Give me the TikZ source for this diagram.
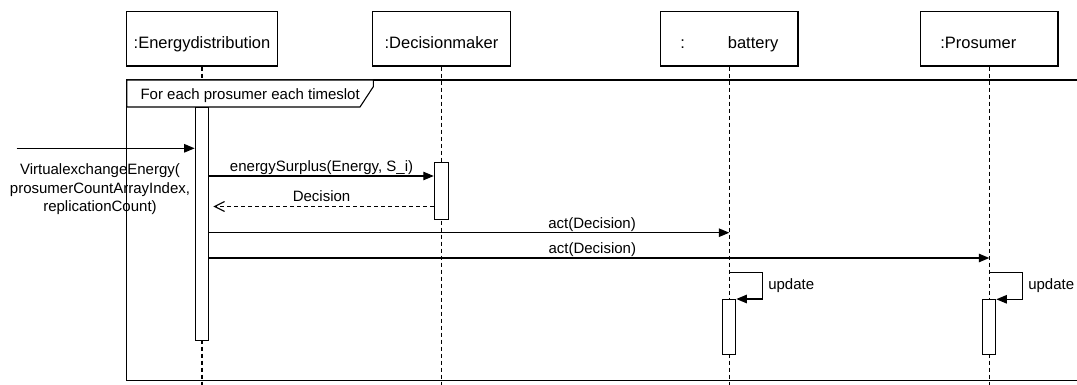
\documentclass[tikz,border=0pt]{standalone}
\usepackage{fontspec}
\setmainfont{Liberation Sans}
\usetikzlibrary{arrows.meta}

\begin{document}
\begin{tikzpicture}[x=1pt,y=-1pt,
	every node/.style={font=\fontsize{15}{18.5}\selectfont},
	head/.style={draw, line width=1.1pt, minimum height=54.3pt, minimum width=137.3pt, inner sep=0pt, text height=18.8pt, text depth=0pt, font=\fontsize{16.5}{20}\selectfont},
	bar/.style={draw, fill=white, line width=1.1pt, minimum width=13.6pt, inner sep=0pt, anchor=north},
	life/.style={line width=1.1pt, dash pattern=on 4pt off 3pt},
	frame/.style={line width=1.1pt},
	msg/.style={line width=1.1pt, -{Triangle[length=10.5pt,width=8.5pt]}},
	reply/.style={line width=1.1pt, dash pattern=on 4pt off 3pt, -{Straight Barb[length=10pt,width=10pt]}, shorten >=4pt},
	lbl/.style={above=4pt, inner sep=0pt, text depth=0pt}]
		\useasboundingbox (0,0) rectangle (1077,385);
		\node[head, minimum width=150.6pt] (ed) at (202,38.9) {:Energydistribution};
		\node[head] (dm) at (441.5,38.9) {:Decisionmaker};
		\node[head] (bat) at (729.3,38.9) {:\hspace{43pt}battery};
		\node[head] (pro) at (989.3,38.9) {:Prosumer\kern22pt};
		\coordinate (base) at (0,385);
		\draw[life] (ed.south) -- (ed.south |- base);
		\draw[life] (dm.south) -- (dm.south |- base);
		\draw[life] (bat.south) -- (bat.south |- base);
		\draw[life] (pro.south) -- (pro.south |- base);
		\draw[frame] (1077,80) -- (126.7,80) -- (126.7,380.7) -- (1077,380.7);
		\draw[frame, fill=white] (126.7,80) -- (373.3,80) -- (373.3,86.7) -- (360,107) -- (126.7,107) -- cycle;
		\node[anchor=west] (loop) at (137,96) {For each prosumer each timeslot};
		\node[bar, minimum height=233pt] (edbar) at (202,107) {};
		\node[bar, minimum height=57pt, minimum width=14pt] (dmbar) at (441.3,162.3) {};
		\node[bar, minimum height=55pt] (batbar) at (729,299) {};
		\node[bar, minimum height=54.7pt] (probar) at (989,299.3) {};
		\coordinate (src) at (16.7,148.3);
		\draw[msg] (src) -- (edbar.west |- src);
		\node[align=center] (call) at (100,189.2) {VirtualexchangeEnergy(\\prosumerCountArrayIndex,\\replicationCount)};
		\coordinate (m1) at (0,176);
		\draw[msg] (edbar.east |- m1) -- node[lbl] {energySurplus(Energy, S\_i)} (dmbar.west |- m1);
		\coordinate (m2) at (0,206.5);
		\draw[reply] (dmbar.west |- m2) -- node[lbl] {Decision} (edbar.east |- m2);
		\coordinate (m3) at (0,232.7);
		\draw[msg] (edbar.east |- m3) -- node[lbl, pos=.736] {act(Decision)} (bat.south |- m3);
		\coordinate (m4) at (0,258);
		\draw[msg] (edbar.east |- m4) -- node[lbl, pos=.491] {act(Decision)} (pro.south |- m4);
		\coordinate (bu) at (762.7,272.3);
		\draw[msg] (bat.south |- bu) -- (bu) -- node[right=4pt, inner sep=1pt] {update} (bu |- batbar.north east) -- (batbar.north east);
		\coordinate (pu) at (1022.7,272.3);
		\draw[msg] (pro.south |- pu) -- (pu) -- node[right=4pt, inner sep=1pt] {update} (pu |- probar.north east) -- (probar.north east);
	\end{tikzpicture}
\end{document}
